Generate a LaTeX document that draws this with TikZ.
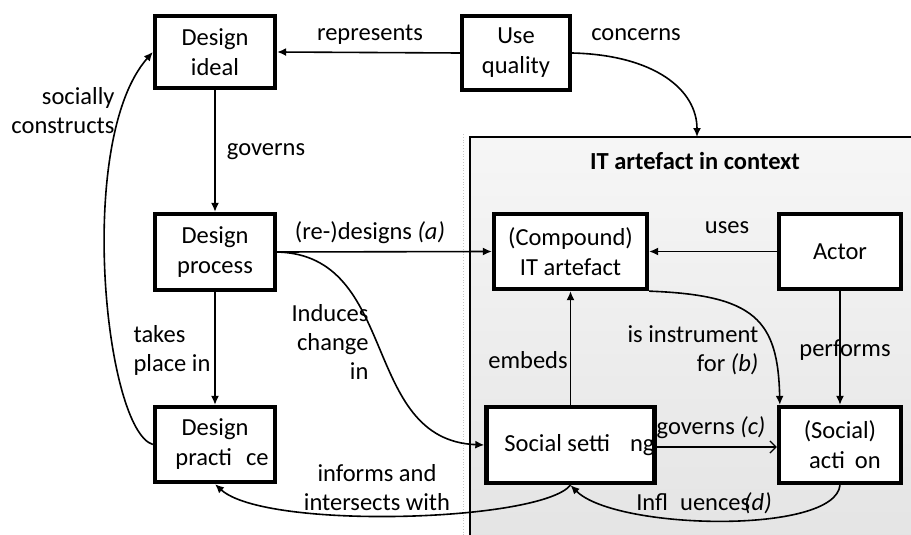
\documentclass[tikz,border=0pt]{standalone}
\usepackage{fontspec}
\setmainfont{Carlito}
\usetikzlibrary{arrows.meta}
\begin{document}
\begin{tikzpicture}[x=1pt,y=-1pt,
  box/.style={draw, line width=4.3pt, fill=white, align=center, inner sep=0pt,
    font=\fontsize{24.5}{30}\selectfont},
  lbl/.style={font=\fontsize{24.5}{29}\selectfont, inner sep=0pt},
  conn/.style={line width=1.6pt, -{Latex[length=9pt,width=8pt]}},
  openconn/.style={line width=1.2pt, -{Straight Barb[length=6pt,width=12pt,line width=1.3pt]}},
]
\path[use as bounding box] (0,0) rectangle (911,535);

% context panel
\begin{scope}
  \clip (0,0) rectangle (911,535);
  \draw[gray!45, dotted, line width=0.8pt] (463,134) -- (463,540);
  \shade[top color=gray!7, bottom color=gray!21, draw=black, line width=1.6pt]
    (470,137) rectangle (940,540);
\end{scope}
\coordinate (ctop) at (697,137);
\node[lbl, font=\fontsize{24.5}{29}\selectfont\bfseries] (ctitle) at (695,161) {IT artefact in context};

% concept boxes
\node[box, minimum width=120pt, minimum height=72pt] (ideal) at (215,52) {Design\\ideal};
\node[box, minimum width=108pt, minimum height=74pt] (uq) at (516,53) {Use\\quality};
\node[box, minimum width=120pt, minimum height=76pt] (process) at (215,252) {Design\\process};
\node[box, minimum width=120pt, minimum height=75pt] (practice) at (215,444.5) {Design\\\hspace*{14pt}practi\hspace{14pt}ce};
\node[box, minimum width=153pt, minimum height=75pt] (compound) at (570.5,251.5) {(Compound)\\IT artefact};
\node[box, minimum width=122pt, minimum height=75pt] (actor) at (840,251.5) {Actor};
\node[box, minimum width=153pt, minimum height=76pt] (social) at (570.5,445) {\hspace*{18pt}Social setti\hspace{20pt}ng};
\node[box, minimum width=122pt, minimum height=76pt] (action) at (840,445) {(Social)\\\hspace*{10pt}acti\hspace{10pt}on};

% connectors
\draw[conn] (uq.west) -- (ideal.east);
\draw[conn] (ideal.south) -- (process.north);
\draw[conn] (process.south) -- (practice.north);
\draw[conn] (practice.west) .. controls (105,430) and (75,140) .. (ideal.west);
\draw[conn] (process.east) -- (compound.west);
\draw[conn] (process.east) .. controls (400,255) and (360,440) .. (social.west);
\draw[conn] (uq.east) .. controls (655,55) and (697,90) .. (ctop);
\draw[conn] (actor.west) -- (compound.east);
\draw[conn] (social.north) -- (compound.south);
\draw[conn] (compound.south east) .. controls (755,295) and (778,320) .. ([xshift=3pt]action.north west);
\draw[conn] (actor.south) -- (action.north);
\draw[openconn] (social.east |- 0,447) -- (action.west |- 0,447);
\draw[conn] (action.south) .. controls (835,535) and (615,530) .. (social.south);
\draw[conn] (social.south) .. controls (540,522) and (265,530) .. (practice.south);

% connector labels
\node[lbl] (lrep) at (370,35) {represents};
\node[lbl] (lcon) at (636,35) {concerns};
\node[lbl, align=right] (lsoc) at (63,111) {socially\\constructs};
\node[lbl] (lgov) at (266,152) {governs};
\node[lbl] (lred) at (370,233) {(re-)designs \textit{(a)}};
\node[lbl, align=left] (ltak) at (172,350) {takes\\place in};
\node[lbl, align=right] (lind) at (330,342) {Induces\\change\\in};
\node[lbl, align=center] (linf) at (377,488) {informs and\\intersects with};
\node[lbl] (luse) at (727,228) {uses};
\node[lbl] (lemb) at (528,360) {embeds};
\node[lbl, align=right] (lins) at (693,350) {is instrument\\for \textit{(b)}};
\node[lbl] (lper) at (845,350) {performs};
\node[lbl] (lgc) at (711,428) {governs \textit{(c)}};
\node[lbl] (linfl) at (704,503) {Infl\hspace{12pt}uences\hspace{-6pt}\textit{(d)}};
\end{tikzpicture}
\end{document}
